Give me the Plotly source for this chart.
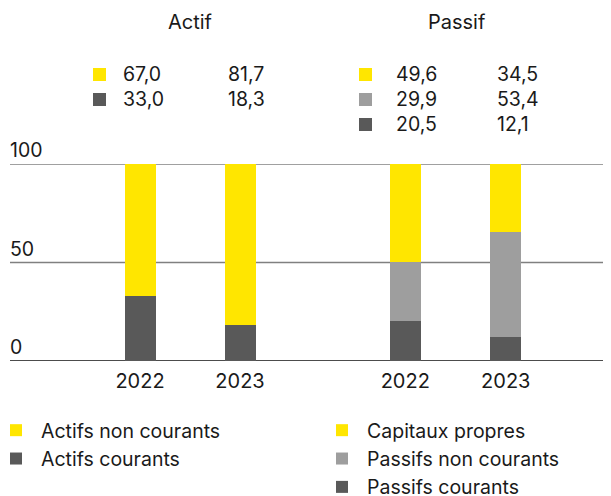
import plotly.graph_objects as go

# ---- data ----
years = ["2022", "2023"]
group_titles = ["Actif", "Passif"]

actif_names = ["Actifs courants", "Actifs non courants"]          # bottom -> top
actif_values = [[33.0, 18.3], [67.0, 81.7]]

passif_names = ["Passifs courants", "Passifs non courants", "Capitaux propres"]  # bottom -> top
passif_values = [[20.5, 12.1], [29.9, 53.4], [49.6, 34.5]]

y_ticks = [0, 50, 100]

# ---- styles ----
YELLOW = "#FFE600"
DARK = "#595959"
LIGHT = "#9E9E9E"
actif_colors = [DARK, YELLOW]
passif_colors = [DARK, LIGHT, YELLOW]
FONT = "Inter"
TXT = "#1a1a1a"
FS = 19.5

OFF = 8  # default page body margin
PAGE_W, PAGE_H = 611, 496
W, H = PAGE_W - OFF, PAGE_H - OFF
PLOT_L, PLOT_R, PLOT_T, PLOT_B = 10, 611, 164, 361   # page pixels
ML, MR, MT, MB = PLOT_L - OFF, PAGE_W - PLOT_R, PLOT_T - OFF, PAGE_H - PLOT_B
PW, PH = PLOT_R - PLOT_L, PLOT_B - PLOT_T


def px(x):
    return (x - PLOT_L) / PW


def py(y):
    return (PLOT_B - y) / PH


fig = go.Figure()
for name, vals, col in zip(actif_names, actif_values, actif_colors):
    fig.add_trace(go.Bar(x=years, y=vals, name=name, marker=dict(color=col, line=dict(width=0)),
                         width=0.31, xaxis="x", yaxis="y", legend="legend", hoverinfo="skip"))
for name, vals, col in zip(passif_names, passif_values, passif_colors):
    fig.add_trace(go.Bar(x=years, y=vals, name=name, marker=dict(color=col, line=dict(width=0)),
                         width=0.31, xaxis="x2", yaxis="y", legend="legend2", hoverinfo="skip"))

# gridlines
for t in y_ticks:
    fig.add_shape(type="line", xref="paper", yref="y", x0=0, x1=1, y0=t, y1=t,
                  line=dict(color="#111111" if t == 0 else "#808080", width=1.5), layer="below")

annotations = []
# y tick labels
for t in y_ticks:
    annotations.append(dict(text=str(t), x=0, y=t, xref="paper", yref="y", showarrow=False,
                            xanchor="left", yanchor="bottom", yshift=0, xshift=-2,
                            font=dict(family=FONT, size=FS, color=TXT)))
# group titles
for title, cx in zip(group_titles, [190, 457]):
    annotations.append(dict(text=title, x=px(cx), y=py(22), xref="paper", yref="paper",
                            showarrow=False, xanchor="center", yanchor="middle",
                            font=dict(family=FONT, size=20, color=TXT)))


def fmt(v):
    return f"{v:.1f}".replace(".", ",")


def table(names, values, colors, sq_x, col_x):
    rows = list(zip(names, values, colors))[::-1]
    for i, (n, vals, col) in enumerate(rows):
        cy = 74 + 25 * i
        fig.add_shape(type="rect", xref="paper", yref="paper",
                      x0=px(sq_x), x1=px(sq_x + 13), y0=py(cy + 7), y1=py(cy - 6),
                      fillcolor=col, line=dict(width=0))
        for v, xx in zip(vals, col_x):
            annotations.append(dict(text=fmt(v), x=px(xx), y=py(cy), xref="paper", yref="paper",
                                    showarrow=False, xanchor="left", yanchor="middle",
                                    font=dict(family=FONT, size=FS, color=TXT)))


table(actif_names, actif_values, actif_colors, 93, [121, 226])
table(passif_names, passif_values, passif_colors, 359, [394, 495])

leg_common = dict(orientation="v", traceorder="reversed", bgcolor="rgba(0,0,0,0)",
                  font=dict(family=FONT, size=FS, color=TXT), itemwidth=40,
                  xanchor="left", yanchor="top", itemclick=False, itemdoubleclick=False)

axis_common = dict(type="category", range=[-0.5, 1.5], showgrid=False, zeroline=False,
                   showline=False, ticks="", ticklabelstandoff=6, automargin=False,
                   tickfont=dict(family=FONT, size=20, color=TXT), fixedrange=True)

fig.update_layout(
    width=W, height=H,
    margin=dict(l=ML, r=MR, t=MT, b=MB, autoexpand=False),
    paper_bgcolor="white", plot_bgcolor="white",
    barmode="stack",
    bargap=0,
    font=dict(family=FONT, size=FS, color=TXT),
    xaxis=dict(domain=[px(90), px(290)], anchor="y", **axis_common),
    xaxis2=dict(domain=[px(355), px(556)], anchor="y", **axis_common),
    yaxis=dict(range=[0, 100], tickvals=y_ticks, showticklabels=False,
               anchor="free", position=0, automargin=False,
               showgrid=False, zeroline=False, showline=False, ticks="", fixedrange=True),
    legend=dict(x=px(-9), y=py(411), **leg_common),
    legend2=dict(x=px(317), y=py(411), **leg_common),
    annotations=annotations,
    showlegend=True,
)

fig.write_html("out.html")
